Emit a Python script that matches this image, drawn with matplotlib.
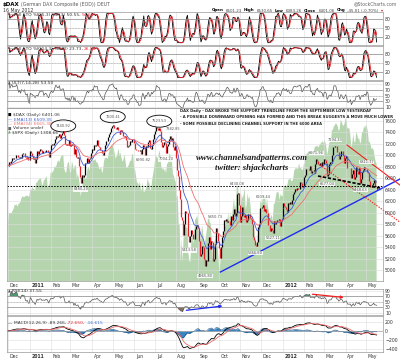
import numpy as np
import pandas as pd
import matplotlib
matplotlib.use("Agg")
import matplotlib.pyplot as plt
from matplotlib.patches import Ellipse

plt.rcParams['font.family'] = 'DejaVu Sans'

# DAX daily closes, one list per month (Dec 2010 .. 16 May 2012)
dax_2010_12 = [6820, 6880, 6860, 6900, 6950, 6930, 6950, 6960, 7000, 7010, 6980, 6960, 6970, 6950, 7030, 7050, 7040, 7040, 6970, 6960, 6970, 6914, 6914]
dax_2011_01 = [7080, 7050, 6990, 6945, 6947, 6860, 6940, 7070, 7030, 7075, 7110, 7100, 7050, 7070, 7070, 7060, 7100, 7100, 7060, 6980, 7077]
dax_2011_02 = [7180, 7200, 7180, 7215, 7290, 7320, 7335, 7320, 7340, 7370, 7310, 7360, 7395, 7426, 7350, 7200, 7175, 7195, 7185, 7272]
dax_2011_03 = [7160, 7180, 7200, 7180, 7020, 7120, 6980, 6950, 6980, 6820, 6630, 6513, 6660, 6620, 6660, 6860, 6870, 6950, 6880, 6870, 6940, 6960, 7041]
dax_2011_04 = [7120, 7100, 7190, 7160, 7190, 7260, 7170, 7150, 7100, 7090, 7040, 7000, 7070, 7180, 7250, 7250, 7320, 7380, 7400, 7475, 7514]
dax_2011_05 = [7527, 7480, 7470, 7460, 7490, 7440, 7440, 7370, 7430, 7450, 7400, 7340, 7320, 7340, 7260, 7150, 7160, 7180, 7250, 7230, 7280, 7294]
dax_2011_06 = [7218, 7108, 7095, 7089, 7080, 7080, 7092, 7020, 7103, 7178, 7138, 7000, 7164, 7140, 7232, 7265, 7121, 7120, 7180, 7225, 7293, 7376]
dax_2011_07 = [7419, 7492, 7472, 7440, 7474, 7420, 7230, 7140, 7180, 7230, 7220, 7050, 7160, 7200, 7290, 7340, 7270, 7300, 7150, 7100, 7158]
dax_2011_08 = [6953, 6750, 6640, 6400, 6236, 5923, 5870, 5613, 5798, 5997, 6035, 5995, 5996, 5602, 5480, 5600, 5690, 5620, 5540, 5537, 5720, 5760, 5784]
dax_2011_09 = [5727, 5504, 5246, 5285, 5425, 5400, 5189, 5072, 5166, 5165, 5474, 5573, 5371, 5514, 5496, 5164, 5196, 5455, 5731, 5640, 5639, 5502]
dax_2011_10 = [5377, 5216, 5395, 5569, 5675, 5871, 5854, 5895, 5829, 5853, 5857, 5793, 5940, 5878, 5970, 6071, 5943, 5999, 6333, 6346, 6141]
dax_2011_11 = [5834, 5950, 6108, 5966, 5917, 5961, 5829, 5867, 5985, 5985, 5933, 5906, 5894, 5800, 5580, 5523, 5428, 5427, 5493, 5746, 5803, 6088]
dax_2011_12 = [6080, 6106, 6133, 6029, 6064, 5995, 5986, 5785, 5785, 5675, 5730, 5702, 5640, 5850, 5794, 5842, 5878, 5878, 5890, 5771, 5848, 5898]
dax_2012_01 = [6075, 6166, 6112, 6095, 6057, 6017, 6162, 6152, 6179, 6143, 6220, 6332, 6354, 6416, 6404, 6436, 6419, 6422, 6539, 6511, 6444, 6458]
dax_2012_02 = [6616, 6655, 6766, 6764, 6754, 6751, 6810, 6692, 6736, 6729, 6740, 6699, 6849, 6944, 6904, 6855, 6833, 6864, 6813, 6887, 6856]
dax_2012_03 = [6941, 6921, 6866, 6633, 6671, 6858, 6880, 6871, 7015, 7144, 7154, 7158, 7157, 7055, 7054, 6941, 6996, 7079, 7078, 6999, 6875, 6947]
dax_2012_04 = [6984, 6982, 6784, 6775, 6775, 6775, 6606, 6674, 6743, 6583, 6625, 6801, 6733, 6671, 6775, 6523, 6590, 6704, 6739, 6801, 6761]
dax_2012_05 = [6761, 6710, 6694, 6561, 6444, 6444, 6475, 6518, 6579, 6452, 6446, 6401]

# S&P 500 closes for the green overlay, same days
spx_2010_12 = [1206, 1221, 1224, 1223, 1224, 1229, 1233, 1240, 1240, 1241, 1236, 1243, 1243, 1247, 1254, 1258, 1256, 1256, 1258, 1259, 1259, 1257, 1258]
spx_2011_01 = [1272, 1270, 1277, 1274, 1272, 1270, 1286, 1286, 1290, 1293, 1293, 1296, 1282, 1281, 1291, 1292, 1297, 1299, 1276, 1276, 1286]
spx_2011_02 = [1307, 1305, 1308, 1310, 1320, 1318, 1321, 1329, 1332, 1328, 1336, 1340, 1343, 1343, 1315, 1308, 1306, 1320, 1329, 1327]
spx_2011_03 = [1306, 1308, 1331, 1321, 1311, 1322, 1321, 1295, 1304, 1296, 1281, 1257, 1273, 1279, 1298, 1298, 1293, 1297, 1314, 1319, 1310, 1328, 1326]
spx_2011_04 = [1332, 1332, 1332, 1335, 1328, 1328, 1324, 1315, 1314, 1320, 1305, 1312, 1330, 1337, 1337, 1337, 1335, 1348, 1355, 1360, 1363]
spx_2011_05 = [1361, 1356, 1347, 1335, 1340, 1346, 1357, 1342, 1348, 1337, 1329, 1333, 1344, 1333, 1317, 1317, 1320, 1325, 1331, 1331, 1345, 1345]
spx_2011_06 = [1315, 1313, 1300, 1286, 1285, 1280, 1289, 1271, 1272, 1287, 1266, 1268, 1272, 1279, 1295, 1287, 1284, 1268, 1280, 1296, 1307, 1321]
spx_2011_07 = [1340, 1340, 1337, 1339, 1353, 1344, 1320, 1313, 1318, 1309, 1316, 1305, 1326, 1325, 1344, 1346, 1338, 1331, 1305, 1300, 1292]
spx_2011_08 = [1287, 1255, 1260, 1200, 1199, 1120, 1172, 1121, 1172, 1179, 1204, 1193, 1193, 1141, 1124, 1123, 1162, 1177, 1159, 1177, 1210, 1212, 1219]
spx_2011_09 = [1204, 1174, 1174, 1166, 1199, 1186, 1154, 1162, 1172, 1189, 1209, 1216, 1204, 1202, 1167, 1130, 1136, 1163, 1176, 1151, 1160, 1131]
spx_2011_10 = [1099, 1124, 1144, 1164, 1155, 1195, 1195, 1208, 1204, 1225, 1200, 1225, 1209, 1216, 1238, 1254, 1229, 1242, 1285, 1285, 1253]
spx_2011_11 = [1219, 1237, 1262, 1253, 1261, 1276, 1230, 1240, 1264, 1251, 1258, 1237, 1216, 1216, 1193, 1188, 1162, 1162, 1159, 1192, 1196, 1247]
spx_2011_12 = [1244, 1245, 1257, 1259, 1262, 1234, 1255, 1236, 1226, 1212, 1215, 1220, 1206, 1242, 1243, 1255, 1266, 1266, 1266, 1250, 1263, 1258]
spx_2012_01 = [1258, 1277, 1278, 1281, 1278, 1281, 1292, 1292, 1296, 1289, 1289, 1294, 1309, 1315, 1315, 1316, 1314, 1326, 1318, 1316, 1313, 1312]
spx_2012_02 = [1324, 1325, 1345, 1344, 1348, 1350, 1351, 1343, 1352, 1350, 1343, 1358, 1361, 1361, 1362, 1358, 1363, 1366, 1368, 1372, 1366]
spx_2012_03 = [1374, 1370, 1364, 1343, 1352, 1366, 1371, 1371, 1396, 1394, 1403, 1404, 1409, 1406, 1402, 1392, 1397, 1416, 1412, 1405, 1403, 1408]
spx_2012_04 = [1419, 1413, 1398, 1398, 1398, 1382, 1358, 1368, 1387, 1370, 1369, 1390, 1385, 1376, 1378, 1366, 1371, 1391, 1391, 1403, 1398]
spx_2012_05 = [1405, 1402, 1391, 1369, 1370, 1363, 1355, 1357, 1353, 1339, 1330, 1325]

# swing-point price labels on the main chart
swing_dates = ["2011-02-18", "2011-03-16", "2011-05-02", "2011-06-14", "2011-07-07", "2011-07-18",
               "2011-07-27", "2011-08-19", "2011-09-12", "2011-09-27", "2011-10-27", "2011-11-23",
               "2011-12-05", "2011-12-19", "2012-02-20", "2012-03-06", "2012-03-16", "2012-04-23",
               "2012-05-02"]
swing_values = [7440.92, 6480.29, 7600.41, 6990.82, 7523.53, 7004.20,
                7382.85, 5413.58, 4965.80, 5850.73, 6430.08, 5366.50,
                6209.44, 5627.11, 6971.96, 6577.04, 7194.33, 6468.63,
                6811.77]
swing_above = [True, False, True, False, True, False,
               True, False, False, True, True, False,
               True, False, True, False, True, False,
               True]
circled = ["2011-02-18", "2011-05-02", "2011-07-07"]
support_level = 6460

dax = np.array(dax_2010_12 + dax_2011_01 + dax_2011_02 + dax_2011_03 + dax_2011_04 + dax_2011_05 +
               dax_2011_06 + dax_2011_07 + dax_2011_08 + dax_2011_09 + dax_2011_10 + dax_2011_11 +
               dax_2011_12 + dax_2012_01 + dax_2012_02 + dax_2012_03 + dax_2012_04 + dax_2012_05, dtype=float)
spx = np.array(spx_2010_12 + spx_2011_01 + spx_2011_02 + spx_2011_03 + spx_2011_04 + spx_2011_05 +
               spx_2011_06 + spx_2011_07 + spx_2011_08 + spx_2011_09 + spx_2011_10 + spx_2011_11 +
               spx_2011_12 + spx_2012_01 + spx_2012_02 + spx_2012_03 + spx_2012_04 + spx_2012_05, dtype=float)

dates = pd.bdate_range(end="2012-05-16", periods=len(dax))
x = np.arange(len(dax))
x_spx = np.arange(len(dax) - len(spx), len(dax))

def idx(d):
    return int(np.searchsorted(dates, pd.Timestamp(d)))

# indicators
c = pd.Series(dax)
o = c.shift(1).fillna(c.iloc[0])
hi = np.maximum(o, c)
lo = np.minimum(o, c)
ema13 = c.ewm(span=13, adjust=False).mean()
ema34 = c.ewm(span=34, adjust=False).mean()

def full_sto(n):
    ll = lo.rolling(n, min_periods=1).min()
    hh = hi.rolling(n, min_periods=1).max()
    fast = 100 * (c - ll) / (hh - ll).replace(0, np.nan)
    k = fast.rolling(3, min_periods=1).mean()
    return k, k.rolling(3, min_periods=1).mean()

k5, d5 = full_sto(5)
k14, d14 = full_sto(14)

bp = c - np.minimum(lo, o)
tr = np.maximum(hi, o) - np.minimum(lo, o)
def uavg(n):
    return bp.rolling(n, min_periods=1).sum() / tr.rolling(n, min_periods=1).sum().replace(0, np.nan)
ult = 100 * (4 * uavg(7) + 2 * uavg(14) + uavg(28)) / 7

delta = c.diff().fillna(0)
gain = delta.clip(lower=0).ewm(alpha=1/14, adjust=False).mean()
loss = (-delta.clip(upper=0)).ewm(alpha=1/14, adjust=False).mean()
rsi = 100 - 100 / (1 + gain / loss.replace(0, np.nan))

macd = c.ewm(span=12, adjust=False).mean() - c.ewm(span=26, adjust=False).mean()
signal = macd.ewm(span=9, adjust=False).mean()
hist = macd - signal

# layout in pixels
W, H = 400, 359
fig = plt.figure(figsize=(W/100, H/100), dpi=100)
renderer = fig.canvas.get_renderer()
XL = (-1, 386.6)

def panel(top, bottom, left=7, right=383):
    return fig.add_axes([left/W, 1 - bottom/H, (right - left)/W, (bottom - top)/H])

def ptext(px, py, s, **kw):
    kw.setdefault('fontsize', 3.2)
    kw.setdefault('va', 'center')
    kw.setdefault('color', '#333333')
    return fig.text(px/W, 1 - py/H, s, **kw)

def chain(px, py, parts, gap=1.2, **kw):
    # place text pieces one after another on a row
    for s, extra in parts:
        t = ptext(px, py, s, **{**kw, **extra})
        px = t.get_window_extent(renderer).x1 * W / fig.bbox.width + gap

month_pos = np.where(pd.Series(dates.month).diff().fillna(1).values != 0)[0]

def style(ax, yt, ylim):
    ax.set_xlim(*XL)
    ax.set_ylim(*ylim)
    ax.set_yticks(yt)
    ax.yaxis.tick_right()
    ax.tick_params(axis='y', length=0, labelsize=3.3, pad=1.5, colors='#333333')
    ax.set_xticks(month_pos)
    ax.tick_params(axis='x', length=0, labelbottom=False)
    ax.grid(True, color='#dedede', lw=0.4)
    ax.set_axisbelow(True)
    for sp in ax.spines.values():
        sp.set_color('#999999')
        sp.set_linewidth(0.5)

def month_labels(ax):
    for i in month_pos:
        d = dates[i]
        lab = str(d.year) if d.month == 1 else d.strftime('%b')
        ax.annotate(lab, (i, 0), xycoords=('data', 'axes fraction'), xytext=(1.2, -1.2),
                    textcoords='offset points', ha='left', va='top', fontsize=3.3,
                    fontweight='bold' if d.month == 1 else 'normal', color='#333333')

# header
chain(3, 4.5, [("$DAX", {'fontweight': 'bold', 'fontsize': 4.0, 'color': 'black'}),
               ("(German DAX Composite (EOD)) DEUT", {'fontsize': 3.3, 'color': '#555555'})])
ptext(3, 10.5, "16 May 2012", fontsize=3.3)
ptext(397, 4, "@StockCharts.com", ha='right', fontsize=3.3, color='#666666')
B = {'fontweight': 'bold', 'color': 'black'}
N = {'color': '#444444'}
chain(212, 10.5, [("Open", B), ("6501.23", N), ("High", B), ("6530.65", N), ("Low", B),
                  ("6383.26", N), ("Close", B), ("6401.06", N), ("Chg", B),
                  ("-45.01 (-0.70%)", N), ("▾", {'color': '#d02020'})], gap=2.0, fontsize=2.9)

# stochastics
for (top, bot, k, d, lab, last) in [(12, 45, k5, d5, "Full STO %K(5,3) %D(3) 50.55,", "54.66"),
                                      (46, 80, k14, d14, "Full STO %K(14,3) %D(3) 23.73,", "26.54")]:
    ax = panel(top, bot)
    ax.plot(x, k, color='black', lw=0.6)
    ax.plot(x, d, color='#e8242b', lw=0.6)
    for lv in (20, 80):
        ax.axhline(lv, color='#8c8c8c', lw=0.5)
    ax.axhline(50, color='#aaaaaa', lw=0.4, ls='--')
    style(ax, [20, 50, 80], (-8, 105))
    chain(8, top + 2.5, [("—", {'color': 'black'}), (lab, {}), (last, {'color': '#e8242b'})])

# ultimate oscillator
ax3 = panel(81, 108)
ax3.plot(x, ult, color='#555555', lw=0.5)
ax3.axhline(70, color='#8c8c8c', lw=0.5)
ax3.axhline(30, color='#8c8c8c', lw=0.5)
ax3.axhline(50, color='#aaaaaa', lw=0.4, ls='--')
style(ax3, [10, 30, 50, 70, 90], (7, 100))
chain(8, 83.5, [("▲", {'color': '#555555', 'fontsize': 2.6}), ("ULT(7,14,28) 53.50", {})])

# main price panel with SPX overlay
axg = panel(108, 281)
axg.fill_between(x_spx, 0, spx, color='#b4d5ae', lw=0)
axg.set_xlim(*XL)
axg.set_ylim(1083, 1440)
axg.axis('off')

ax4 = panel(108, 281)
ax4.set_facecolor('none')
up = (c >= o).values
ax4.vlines(x[up], lo[up], hi[up], color='black', lw=0.9)
ax4.vlines(x[~up], lo[~up], hi[~up], color='#e3222a', lw=0.9)
ax4.plot(x, ema13, color='#3f5fd6', lw=0.6)
ax4.plot(x, ema34, color='#f06f6f', lw=0.6)
ax4.axhline(support_level, color='black', lw=0.7, ls=(0, (1.5, 1.5)))
style(ax4, np.arange(5000, 7601, 200), (4808, 7827))
month_labels(ax4)

ylo, yhi = ax4.get_ylim()
dx_px = (XL[1] - XL[0]) / 376.0
dy_px = (yhi - ylo) / 173.0
for d, v, a in zip(swing_dates, swing_values, swing_above):
    i = idx(d)
    ax4.annotate(f"{v:.2f}", (i, v), xytext=(0, 3 if a else -3), textcoords='offset points',
                 ha='center', va='center', fontsize=2.6, color='#555555',
                 bbox=dict(fc='white', ec='none', pad=0.15, alpha=0.85))
    if d in circled:
        ax4.add_patch(Ellipse((i, v + 4.2 * dy_px), 25 * dx_px, 12 * dy_px, fill=False,
                              ec='black', lw=0.6))

# trendlines drawn by the author
ax4.plot([idx("2011-10-04"), 404], [4965, 6588], color='#1f2cf0', lw=1.0, clip_on=False)
ax4.plot([349.5, 404], [7181, 6483], color='#f02020', lw=0.8, clip_on=False)
ax4.plot([321.6, 404], [6832, 5837], color='#f02020', lw=0.8, ls=(0, (1.2, 1.2)), clip_on=False)
ax4.plot([319.6, 383.5], [6640, 6431], color='black', lw=1.2, ls=(0, (2, 1)))

sq = {'fontsize': 2.6}
chain(8, 115, [("■", {**sq, 'color': 'black'}), ("$DAX (Daily) 6401.06", {})])
chain(8, 119.5, [("—", {'color': '#3f5fd6'}), ("EMA(13) 6509.35", {'color': '#3f5fd6'})])
chain(8, 124, [("—", {'color': '#f06f6f'}), ("EMA(34) 6665.38", {'color': '#f06f6f'})])
chain(8, 128.5, [("■", {**sq, 'color': '#666666'}), ("Volume undef", {})])
chain(8, 133, [("▲", {**sq, 'color': '#6aa864'}), ("$SPX (Daily) 1308.66", {})])

notes = ["DAX Daily - DAX BROKE THE SUPPORT TRENDLINE FROM THE SEPTEMBER LOW YESTERDAY",
         "- A POSSIBLE DOWNWARD OPENING HAS FORMED AND THIS BREAK SUGGESTS A MOVE MUCH LOWER",
         "- SOME POSSIBLE DECLINING CHANNEL SUPPORT IN THE 6000 AREA"]
for j, s in enumerate(notes):
    ptext(180, 111 + 6.3 * j, s, fontsize=2.7, fontweight='bold', color='#222222')

ptext(252, 158, "www.channelsandpatterns.com", ha='center', fontsize=6.3, fontstyle='italic',
      fontweight='bold', family='Liberation Serif', color='#1a1a1a')
ptext(252, 168, "twitter: shjackcharts", ha='center', fontsize=6.3, fontstyle='italic',
      fontweight='bold', family='Liberation Serif', color='#1a1a1a')

# RSI
ax5 = panel(289, 315)
ax5.fill_between(x, rsi, 30, where=(rsi < 30).values, color='#8b6e5f', interpolate=True, lw=0)
ax5.fill_between(x, rsi, 70, where=(rsi > 70).values, color='#4f9a73', interpolate=True, lw=0)
ax5.plot(x, rsi, color='#555555', lw=0.5)
ax5.axhline(70, color='#8c8c8c', lw=0.5)
ax5.axhline(30, color='#8c8c8c', lw=0.5)
ax5.axhline(50, color='#aaaaaa', lw=0.4, ls='--')
style(ax5, [10, 30, 50, 70, 90], (2, 97))
ax5.annotate("", xy=(224, 36), xytext=(181, 18),
             arrowprops=dict(arrowstyle='-|>', color='#1f2cf0', lw=0.9, mutation_scale=4))
ax5.annotate("", xy=(349, 65), xytext=(311, 79),
             arrowprops=dict(arrowstyle='-|>', color='#f02020', lw=0.9, mutation_scale=4))
chain(8, 291.5, [("▲", {'color': '#555555', 'fontsize': 2.6}), ("RSI(14) 37.55", {})])

# MACD
ax6 = panel(316, 352)
ax6.fill_between(x, 0, hist, color='#3b84c4', lw=0)
ax6.plot(x, hist, color='#1d4f7c', lw=0.4)
ax6.plot(x, macd, color='black', lw=0.6)
ax6.plot(x, signal, color='#f06a6a', lw=0.6)
ax6.axhline(0, color='#999999', lw=0.4)
style(ax6, [-400, -200, 0, 200], (-467, 333))
month_labels(ax6)
chain(8, 323, [("—", {'color': 'black'}), ("MACD(12,26,9) -89.266,", {}),
               ("-72.650,", {'color': '#e8242b'}), ("-16.615", {'color': '#3b6fd6'})])

fig.savefig("out.png", dpi=100, facecolor='white')
